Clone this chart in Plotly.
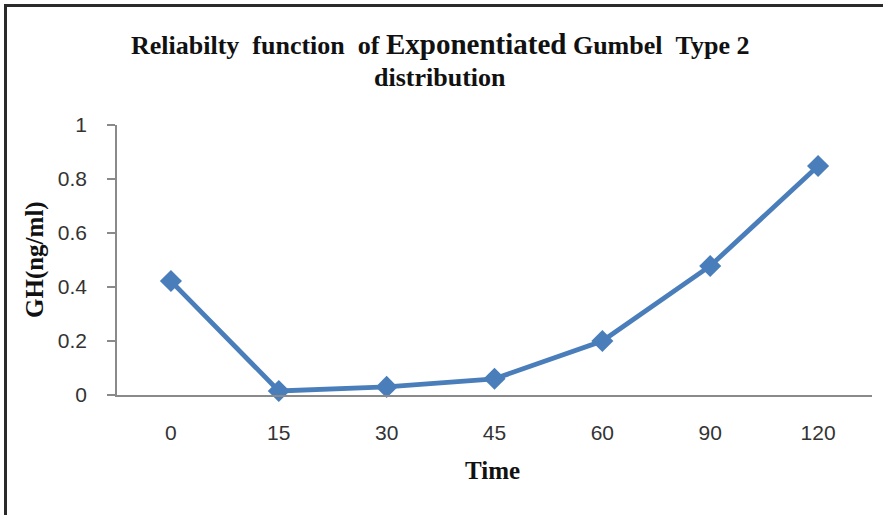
import plotly.graph_objects as go

# Data
time_labels = ["0", "15", "30", "45", "60", "90", "120"]
gh_values = [0.422, 0.015, 0.03, 0.06, 0.2, 0.478, 0.848]
y_ticks = [0, 0.2, 0.4, 0.6, 0.8, 1]
y_tick_text = ["0", "0.2", "0.4", "0.6", "0.8", "1"]

W, H = 883, 515
L, R, T, B = 117, 11, 125, 120
PW, PH = W - L - R, H - T - B


def px_x(px):
    return (px - L) / PW


def px_y(py):
    return (H - B - py) / PH


SERIF = "Liberation Serif, Times New Roman, serif"
SANS = "Liberation Sans, Arial, sans-serif"
BLUE = "#4A7EBB"
NB = "\u00a0"

fig = go.Figure()
fig.add_trace(go.Scatter(
    x=time_labels, y=gh_values, mode="lines+markers",
    line=dict(color=BLUE, width=4.8),
    marker=dict(symbol="diamond", size=17, color=BLUE),
    showlegend=False, cliponaxis=False,
))

title1 = (f"Reliabilty{NB}{NB}function{NB}{NB}of{NB}"
          f"<span style='font-size:29px'>Exponentiated</span>{NB}Gumbel{NB}{NB}Type{NB}2")

annotations = [
    dict(text=title1, x=px_x(440), y=px_y(44), xref="paper", yref="paper",
         showarrow=False, xanchor="center", yanchor="middle",
         font=dict(family=SERIF, size=26, color="#111", weight="bold")),
    dict(text="distribution", x=px_x(440), y=px_y(77), xref="paper", yref="paper",
         showarrow=False, xanchor="center", yanchor="middle",
         font=dict(family=SERIF, size=26, color="#111", weight="bold")),
    dict(text="GH(ng/ml)", x=px_x(35), y=px_y(260), xref="paper", yref="paper",
         showarrow=False, xanchor="center", yanchor="middle", textangle=-90,
         font=dict(family=SERIF, size=25, color="#111", weight="bold")),
    dict(text="Time", x=px_x(492), y=px_y(470), xref="paper", yref="paper",
         showarrow=False, xanchor="center", yanchor="middle",
         font=dict(family=SERIF, size=25, color="#111", weight="bold")),
]

shapes = [
    dict(type="line", xref="paper", yref="paper",
         x0=px_x(4), x1=px_x(W + 2), y0=px_y(5.5), y1=px_y(5.5),
         line=dict(color="#2a2a2a", width=3)),
    dict(type="line", xref="paper", yref="paper",
         x0=px_x(5.5), x1=px_x(5.5), y0=px_y(4), y1=px_y(H + 2),
         line=dict(color="#2a2a2a", width=3)),
]

fig.update_layout(
    width=W, height=H,
    margin=dict(l=L, r=R, t=T, b=B, pad=0),
    paper_bgcolor="white", plot_bgcolor="white",
    annotations=annotations, shapes=shapes,
    xaxis=dict(
        type="category", range=[-0.5, 6.5],
        showgrid=False, zeroline=False,
        showline=True, linecolor="#8a8a8a", linewidth=1.5,
        ticks="", ticklabelstandoff=18,
        tickfont=dict(family=SANS, size=21, color="#333"),
    ),
    yaxis=dict(
        range=[0, 1], tickvals=y_ticks, ticktext=y_tick_text,
        showgrid=False, zeroline=False,
        showline=True, linecolor="#8a8a8a", linewidth=1.5,
        ticks="outside", ticklen=8, tickcolor="#8a8a8a", tickwidth=1.5,
        ticklabelstandoff=16,
        tickfont=dict(family=SANS, size=21, color="#333"),
    ),
)

fig.write_html("out.html")
